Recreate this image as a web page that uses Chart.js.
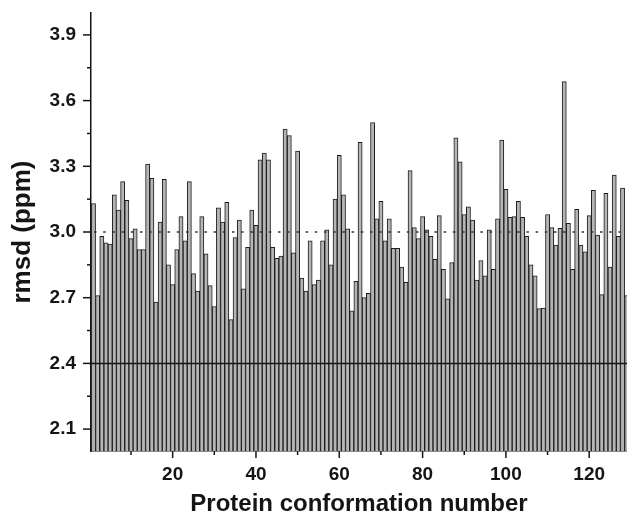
<!DOCTYPE html>
<html>
<head>
<meta charset="utf-8">
<script src="https://cdn.jsdelivr.net/npm/chart.js@4.4.1/dist/chart.umd.min.js"></script>
<style>
  html, body { margin: 0; padding: 0; background: #fff; overflow: hidden; }
  #wrap { width: 627px; height: 517px; }
</style>
</head>
<body>
<div id="wrap"><canvas id="rmsd-chart" width="627" height="517"></canvas></div>
<script>
// rmsd (ppm) for each protein conformation, in order 1..129
const rmsd = [
  3.13, 2.71, 2.98, 2.95, 2.945, 3.17, 3.10, 3.23, 3.145, 2.97,
  3.015, 2.92, 2.92, 3.31, 3.245, 2.68, 3.045, 3.24, 2.85, 2.76,
  2.92, 3.07, 2.96, 3.23, 2.81, 2.73, 3.07, 2.90, 2.755, 2.66,
  3.11, 3.045, 3.135, 2.60, 2.975, 3.055, 2.74, 2.93, 3.10, 3.03,
  3.33, 3.36, 3.33, 2.93, 2.88, 2.89, 3.47, 3.44, 2.905, 3.37,
  2.79, 2.73, 2.96, 2.76, 2.78, 2.96, 3.01, 2.85, 3.15, 3.35,
  3.17, 3.015, 2.64, 2.775, 3.41, 2.70, 2.72, 3.50, 3.06, 3.14,
  2.96, 3.06, 2.925, 2.925, 2.84, 2.77, 3.28, 3.02, 2.97, 3.07,
  3.01, 2.98, 2.875, 3.075, 2.83, 2.695, 2.86, 3.43, 3.32, 3.08,
  3.115, 3.055, 2.78, 2.87, 2.80, 3.01, 2.83, 3.06, 3.42, 3.195,
  3.067, 3.07, 3.14, 3.067, 2.98, 2.85, 2.80, 2.65, 2.653, 3.08,
  3.02, 2.94, 3.017, 3.687, 3.04, 2.83, 3.104, 2.94, 2.91, 3.075,
  3.19, 2.986, 2.714, 3.177, 2.84, 3.26, 2.98, 3.20, 2.71
];
const conformations = rmsd.map((_, i) => i + 1);

const yTicks = [2.1, 2.4, 2.7, 3.0, 3.3, 3.6, 3.9];
const yMinorTicks = [2.25, 2.55, 2.85, 3.15, 3.45, 3.75];
const xTicks = [20, 40, 60, 80, 100, 120];
const xMinorTicks = [10, 30, 50, 70, 90, 110, 130];

// reference levels: solid at 2.4, dotted at 3.0
const solidLevel = 2.4;
const dottedLevel = 3.0;

const FONT = "'Liberation Sans', Arial, Helvetica, sans-serif";
const INK = '#151515';

// tick marks drawn by hand so major and minor can have different lengths
const axisTicks = {
  id: 'axisTicks',
  afterDraw(chart) {
    const {ctx, chartArea: area, scales: {x, y}} = chart;
    ctx.save();
    ctx.strokeStyle = INK;
    ctx.lineWidth = 1.5;
    const mark = (x1, y1, x2, y2) => {
      ctx.beginPath();
      ctx.moveTo(x1, y1);
      ctx.lineTo(x2, y2);
      ctx.stroke();
    };
    yTicks.forEach(v => {
      const py = y.getPixelForValue(v);
      mark(area.left - 8, py, area.left, py);
    });
    yMinorTicks.forEach(v => {
      const py = y.getPixelForValue(v);
      mark(area.left - 4, py, area.left, py);
    });
    xTicks.forEach(v => {
      const px = x.getPixelForValue(v);
      if (px <= area.right) mark(px, area.bottom, px, area.bottom + 7);
    });
    xMinorTicks.forEach(v => {
      const px = x.getPixelForValue(v);
      if (px <= area.right) mark(px, area.bottom, px, area.bottom + 4);
    });
    ctx.restore();
  }
};

const levelLines = {
  id: 'levelLines',
  afterDatasetsDraw(chart) {
    const {ctx, chartArea: area, scales: {y}} = chart;
    ctx.save();
    ctx.beginPath();
    ctx.rect(area.left, area.top, area.right - area.left, area.bottom - area.top);
    ctx.clip();

    let py = y.getPixelForValue(solidLevel);
    ctx.strokeStyle = INK;
    ctx.lineWidth = 1.5;
    ctx.beginPath();
    ctx.moveTo(area.left, py);
    ctx.lineTo(area.right, py);
    ctx.stroke();

    py = y.getPixelForValue(dottedLevel);
    ctx.strokeStyle = '#333';
    ctx.lineWidth = 1.5;
    ctx.setLineDash([2.5, 6.7]);
    ctx.beginPath();
    ctx.moveTo(area.left + 3, py);
    ctx.lineTo(area.right, py);
    ctx.stroke();
    ctx.restore();
  }
};

const ctx = document.getElementById('rmsd-chart').getContext('2d');
new Chart(ctx, {
  type: 'bar',
  data: {
    datasets: [{
      data: conformations.map((n, i) => ({x: n, y: rmsd[i]})),
      backgroundColor: '#b5b5b5',
      borderColor: '#1c1c1c',
      borderWidth: 1,
      borderSkipped: 'start',
      barPercentage: 1,
      categoryPercentage: 1
    }]
  },
  options: {
    responsive: false,
    animation: false,
    events: [],
    layout: { padding: { top: 13, right: 0, bottom: 0, left: 0 } },
    plugins: {
      legend: { display: false },
      tooltip: { enabled: false }
    },
    scales: {
      x: {
        type: 'linear',
        offset: false,
        min: 0.4,
        max: 129.07,
        afterBuildTicks: s => { s.ticks = xTicks.map(v => ({value: v})); },
        afterFit: s => { s.height = 66; s.paddingLeft = 0; s.paddingRight = 0; },
        grid: { display: false, drawTicks: false },
        border: { display: true, color: INK, width: 1.5 },
        ticks: {
          padding: 12,
          color: INK,
          autoSkip: false,
          maxRotation: 0,
          font: { family: FONT, size: 19, weight: 'bold' }
        },
        title: {
          display: true,
          text: 'Protein conformation number',
          color: INK,
          padding: { top: 0, bottom: 1 },
          font: { family: FONT, size: 24, weight: 'bold', lineHeight: 1 }
        }
      },
      y: {
        min: 2.0,
        max: 4.0,
        afterBuildTicks: s => { s.ticks = yTicks.map(v => ({value: v})); },
        afterFit: s => { s.width = 91; s.paddingTop = 0; s.paddingBottom = 0; },
        grid: { display: false, drawTicks: false },
        border: { display: true, color: INK, width: 1.5 },
        ticks: {
          padding: 15,
          color: INK,
          callback: v => v.toFixed(1),
          font: { family: FONT, size: 19, weight: 'bold' }
        },
        title: {
          display: true,
          text: 'rmsd (ppm)',
          color: INK,
          padding: { top: 10, bottom: 0 },
          font: { family: FONT, size: 26, weight: 'bold', lineHeight: 1 }
        }
      }
    }
  },
  plugins: [levelLines, axisTicks]
});
</script>
</body>
</html>
